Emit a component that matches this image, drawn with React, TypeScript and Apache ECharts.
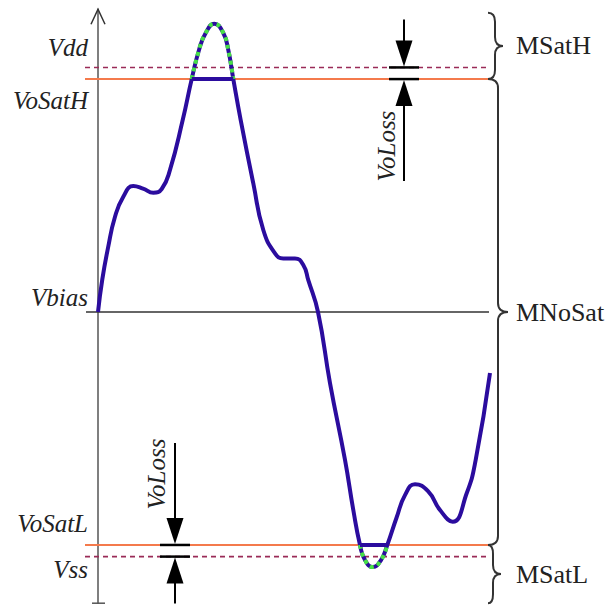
import React, { useEffect, useRef } from "react";
import * as echarts from "echarts";

// ---- data ----
const levelNames = ["Vdd", "VoSatH", "Vbias", "VoSatL", "Vss"];
const levelValues = [10.5, 10, 0, -10, -10.5];
const curveX = [0, 4.3, 10, 17, 25.3, 35.3, 45, 55.3, 63.7, 72, 84.7, 93.7, 101, 107.7, 116.3, 125.3, 130.3, 135.3, 142.7, 155.3, 165.3, 177, 185.3, 197, 205.3, 210.3, 220, 232, 247, 255.3, 262, 267, 274.7, 283, 289.3, 298.7, 307, 317, 330, 342, 354.7, 368.7, 377.7, 392];
const curveY = [0, 1.4, 2.75, 4.09, 4.95, 5.41, 5.3, 5.12, 5.28, 6.1, 8.24, 10.0, 11.25, 11.98, 12.38, 11.98, 11.25, 10.0, 8.24, 5.52, 3.52, 2.52, 2.3, 2.3, 2.02, 1.37, 0, -3.05, -6.35, -8.5, -10.0, -10.65, -10.95, -10.65, -10.0, -8.81, -7.86, -7.39, -7.69, -8.5, -9.0, -7.78, -6.35, -2.62];
const regionNames = ["MSatH", "MNoSat", "MSatL"];
const regionBounds = [[12.85, 10], [10, -10], [-10, -12.5]];
const lossLabel = "VoLoss";
const lossArrowX = [306, 77];
const yRange = [-12.5, 13];
const xRange = [-20, 400];
const lineSpan = [-13, 391];

const BLUE = "#2b0c9e";
const GREEN = "#47e047";
const ORANGE = "#f47a4c";
const DASH = "#9a2b57";
const SERIF = "'Liberation Serif', 'Times New Roman', Times, serif";

const Brace = echarts.graphic.extendShape({
  shape: { x: 0, y1: 0, y2: 0, w: 8, d: 8 },
  buildPath(ctx: any, s: any) {
    const { x, y1, y2, w, d } = s;
    const ym = (y1 + y2) / 2;
    const r = Math.min(9, (y2 - y1) / 4);
    const xs = x + w;
    ctx.moveTo(x, y1);
    ctx.quadraticCurveTo(xs, y1, xs, y1 + r);
    ctx.lineTo(xs, ym - r);
    ctx.quadraticCurveTo(xs, ym, xs + d, ym);
    ctx.quadraticCurveTo(xs, ym, xs, ym + r);
    ctx.lineTo(xs, y2 - r);
    ctx.quadraticCurveTo(xs, y2, x, y2);
  },
});
echarts.graphic.registerShape("brace", Brace);

export default function App() {
  const ref = useRef<HTMLDivElement>(null);
  useEffect(() => {
    const chart = echarts.init(ref.current!, null, { renderer: "svg" });
    const curve = curveX.map((x, i) => [x, curveY[i]]);
    const hiSat = levelValues[1];
    const loSat = levelValues[3];
    const peakHi = curve.filter((p) => p[1] >= hiSat);
    const peakLo = curve.filter((p) => p[1] <= loSat);
    const flatHi = [peakHi[0], [peakHi[peakHi.length - 1][0], hiSat]];
    const flatLo = [peakLo[0], [peakLo[peakLo.length - 1][0], loSat]];

    const levelStyles = [
      { color: DASH, width: 1.6, type: [5, 4] },
      { color: ORANGE, width: 2, type: "solid" },
      { color: "#333", width: 1.5, type: "solid" },
      { color: ORANGE, width: 2, type: "solid" },
      { color: DASH, width: 1.6, type: [5, 4] },
    ];

    const series: any[] = levelValues.map((v, i) => ({
      type: "line",
      name: levelNames[i],
      data: [[i === 2 ? lineSpan[0] + 1 : lineSpan[0], v], [lineSpan[1], v]],
      showSymbol: false,
      silent: true,
      lineStyle: levelStyles[i],
      z: 2,
    }));
    series.push({
      type: "line",
      data: curve,
      smooth: 0.5,
      showSymbol: false,
      lineStyle: { color: BLUE, width: 4 },
      z: 3,
    });
    [peakHi, peakLo].forEach((pk) =>
      series.push({
        type: "line",
        data: pk,
        smooth: 0.5,
        showSymbol: false,
        lineStyle: { color: GREEN, width: 4, type: [4, 4] },
        z: 4,
      })
    );
    [flatHi, flatLo].forEach((f) =>
      series.push({
        type: "line",
        data: f,
        showSymbol: false,
        lineStyle: { color: BLUE, width: 4 },
        z: 5,
      })
    );

    chart.setOption({
      animation: false,
      grid: { left: 78, right: 609 - 78 - 420, top: 9.2, bottom: 2.8 },
      xAxis: { type: "value", min: xRange[0], max: xRange[1], show: false },
      yAxis: {
        type: "value",
        min: yRange[0],
        max: yRange[1],
        axisLine: { show: true, onZero: true, lineStyle: { color: "#555", width: 1.5 } },
        axisTick: { show: false },
        axisLabel: { show: false },
        splitLine: { show: false },
      },
      series,
    });

    const P = (x: number, y: number) => chart.convertToPixel({ gridIndex: 0 }, [x, y]) as number[];
    const g: any[] = [];
    const stroke = (color: string, lineWidth: number) => ({ stroke: color, lineWidth, fill: "none" });
    const txt = (text: string, size: number, italic: boolean, align: string) => ({
      text,
      fill: "#222",
      fontFamily: SERIF,
      fontSize: size,
      fontStyle: italic ? "italic" : "normal",
      textAlign: align,
      textVerticalAlign: "middle",
      align,
      verticalAlign: "middle",
    });

    const top = P(0, yRange[1]);
    const bot = P(0, yRange[0]);
    g.push({
      type: "polyline",
      shape: { points: [[top[0] - 7, top[1] + 15], top, [top[0] + 7, top[1] + 15]] },
      style: stroke("#333", 1.5),
    });
    g.push({ type: "line", shape: { x1: bot[0] - 6, y1: bot[1], x2: bot[0] + 7, y2: bot[1] }, style: stroke("#555", 1.5) });

    const labelOffsets = [-20, 21, -15, -21, 13];
    levelNames.forEach((n, i) => {
      const p = P(0, levelValues[i]);
      g.push({ type: "text", x: 88, y: p[1] + labelOffsets[i], style: txt(n, 25, true, "right") });
    });

    const braceW = [7, 10, 5];
    const braceD = [8, 10, 8];
    regionNames.forEach((n, i) => {
      const a = P(lineSpan[1] - 1, regionBounds[i][0]);
      const b = P(lineSpan[1] - 1, regionBounds[i][1]);
      g.push({
        type: "brace",
        shape: { x: a[0], y1: a[1], y2: b[1], w: braceW[i], d: braceD[i] },
        style: stroke("#333", 2),
      });
      g.push({ type: "text", x: 516, y: (a[1] + b[1]) / 2, style: txt(n, 26, false, "left") });
    });

    const arrow = (x: number, tipY: number, dir: number) => {
      const base = tipY - dir * 26;
      g.push({
        type: "polygon",
        shape: { points: [[x - 8.5, base], [x + 8.5, base], [x, tipY]] },
        style: { fill: "#000" },
      });
    };
    const loss = (xd: number, outerV: number, innerV: number, textSide: number, textUp: boolean) => {
      const po = P(xd, outerV);
      const pi = P(xd, innerV);
      const x = po[0];
      const down = po[1] < pi[1];
      const yU = Math.min(po[1], pi[1]);
      const yL = Math.max(po[1], pi[1]);
      [yU, yL].forEach((y) =>
        g.push({ type: "line", shape: { x1: x - 15, y1: y, x2: x + 15, y2: y }, style: stroke("#000", 2.5) })
      );
      arrow(x, yU - 1, 1);
      arrow(x, yL + 1, -1);
      const upLen = down ? 48 : 102;
      const lowLen = down ? 102 : 47;
      g.push({ type: "line", shape: { x1: x, y1: yU - upLen, x2: x, y2: yU - 20 }, style: stroke("#000", 2) });
      g.push({ type: "line", shape: { x1: x, y1: yL + 20, x2: x, y2: yL + lowLen }, style: stroke("#000", 2) });
      const ty = textUp ? yU - 71 : yL + 67;
      g.push({
        type: "text",
        x: x + textSide,
        y: ty,
        rotation: Math.PI / 2,
        style: txt(lossLabel, 25, true, "center"),
      });
    };
    loss(lossArrowX[0], levelValues[0], levelValues[1], -18, false);
    loss(lossArrowX[1], levelValues[4], levelValues[3], -19, true);

    chart.setOption({ graphic: { elements: g.map((e) => ({ ...e, z: 100 })) } });
    return () => chart.dispose();
  }, []);
  return (
    <div
      ref={ref}
      style={{ position: "fixed", left: 0, top: 0, width: 609, height: 606, background: "#fff" }}
    />
  );
}
